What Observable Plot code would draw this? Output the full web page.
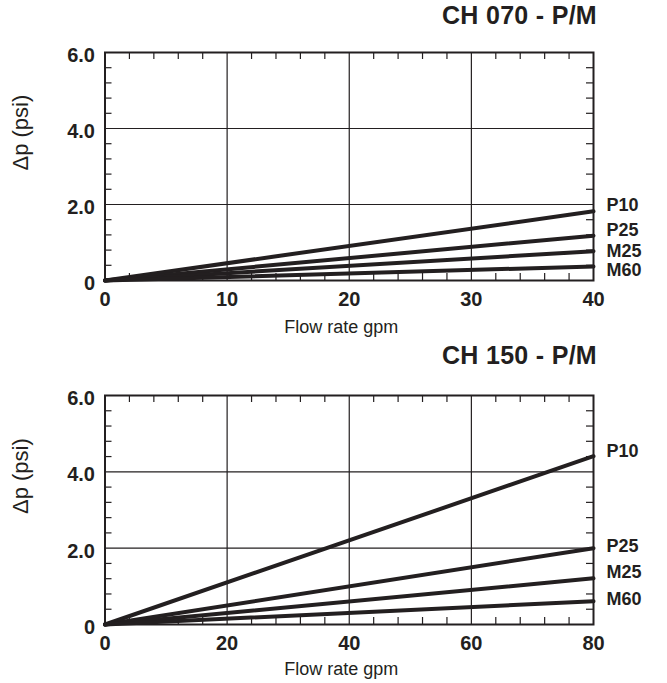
<!DOCTYPE html>
<html><head><meta charset="utf-8">
<script src="https://cdn.jsdelivr.net/npm/d3@7"></script>
<script src="https://cdn.jsdelivr.net/npm/@observablehq/plot@0.6"></script>
<style>
body{margin:0;background:#fff;}
#wrap{position:relative;width:667px;height:683px;font-family:"Liberation Sans",Arial,sans-serif;color:#231f20;}
.title{position:absolute;right:70px;font-weight:bold;font-size:25px;line-height:30px;white-space:nowrap;letter-spacing:0.3px;}
.chart{position:absolute;left:0;}
</style></head><body>
<div id="wrap">
  <div class="title" style="top:0px">CH 070 - P/M</div>
  <div class="chart" id="c1" style="top:30px"></div>
  <div class="title" style="top:340px">CH 150 - P/M</div>
  <div class="chart" id="c2" style="top:370px"></div>
</div>
<script>
// ---- data ----
const series = ["P10", "P25", "M25", "M60"];

const flow070 = [0, 40];
const p10_070 = [0, 1.82];
const p25_070 = [0, 1.18];
const m25_070 = [0, 0.77];
const m60_070 = [0, 0.37];
const xTicks070 = [0, 10, 20, 30, 40];

const flow150 = [0, 80];
const p10_150 = [0, 4.41];
const p25_150 = [0, 2.0];
const m25_150 = [0, 1.21];
const m60_150 = [0, 0.61];
const xTicks150 = [0, 20, 40, 60, 80];

const yTicks = [0, 2, 4, 6];
const xLabel = "Flow rate gpm";
const yLabel = "Δp (psi)";

const ink = "#231f20";
const font = "'Liberation Sans', Arial, sans-serif";

function chart({flow, values, xTicks, H, mt, mb, labelDy, xLabelDy}) {
  const W = 667, ml = 104.5, mr = 74;
  const plotH = H - mt - mb, plotW = W - ml - mr;
  const xMax = xTicks[xTicks.length - 1];
  const major = xTicks[1] - xTicks[0];
  const step = major / 5;
  const xMinor = d3.range(step, xMax, step).filter(v => Math.abs(v / major - Math.round(v / major)) > 1e-6);
  const yMinor = d3.range(0.4, 6, 0.4).filter(v => Math.abs(v / 2 - Math.round(v / 2)) > 1e-6);
  const rows = series.flatMap((s, i) => flow.map((f, j) => ({series: s, flow: f, dp: values[i][j]})));
  const ends = series.map((s, i) => ({series: s, flow: flow[flow.length - 1], dp: values[i][values[i].length - 1]}));
  return Plot.plot({
    width: W, height: H, marginTop: mt, marginBottom: mb, marginLeft: ml, marginRight: mr,
    style: {fontFamily: font, color: ink, background: "white", overflow: "visible"},
    x: {domain: [0, xMax]},
    y: {domain: [0, 6]},
    marks: [
      Plot.gridX(xTicks.slice(1, -1), {stroke: ink, strokeOpacity: 1, strokeWidth: 1.2}),
      Plot.gridY(yTicks.slice(1, -1), {stroke: ink, strokeOpacity: 1, strokeWidth: 1.2}),
      Plot.tickX(xMinor, {x: d => d, insetTop: plotH - 7, stroke: ink, strokeWidth: 1.2}),
      Plot.tickX(xMinor, {x: d => d, insetBottom: plotH - 7, stroke: ink, strokeWidth: 1.2}),
      Plot.tickY(yMinor, {y: d => d, insetRight: plotW - 7, stroke: ink, strokeWidth: 1.2}),
      Plot.tickY(yMinor, {y: d => d, insetLeft: plotW - 7, stroke: ink, strokeWidth: 1.2}),
      Plot.frame({stroke: ink, strokeWidth: 2}),
      Plot.axisX(xTicks, {tickSize: 0, tickPadding: 11, fontSize: 20, fontWeight: "bold", label: null, fill: ink}),
      Plot.axisY(yTicks, {tickSize: 0, tickPadding: 10, fontSize: 20, fontWeight: "bold", label: null, dy: 3, fill: ink,
        tickFormat: d => d === 0 ? "0" : d.toFixed(1)}),
      Plot.line(rows, {x: "flow", y: "dp", z: "series", stroke: ink, strokeWidth: 4}),
      ...series.map((s, i) => Plot.text([ends[i]], {x: "flow", y: "dp", text: "series", dx: 13, dy: labelDy[i],
        textAnchor: "start", fontSize: 18, fontWeight: "bold", fill: ink})),
      Plot.text([xLabel], {frameAnchor: "bottom", dy: xLabelDy, dx: -8, fontSize: 18, fill: ink}),
      Plot.text([yLabel], {frameAnchor: "left", rotate: -90, dx: -84, dy: 4, fontSize: 22, fill: ink})
    ]
  });
}

document.getElementById("c1").append(chart({
  flow: flow070, values: [p10_070, p25_070, m25_070, m60_070], xTicks: xTicks070,
  H: 310, mt: 22, mb: 60, labelDy: [-6, -5, 0, 4], xLabelDy: 52
}));
document.getElementById("c2").append(chart({
  flow: flow150, values: [p10_150, p25_150, m25_150, m60_150], xTicks: xTicks150,
  H: 313, mt: 25, mb: 59, labelDy: [-5, -2, -6, -2], xLabelDy: 50
}));
</script>
</body></html>
